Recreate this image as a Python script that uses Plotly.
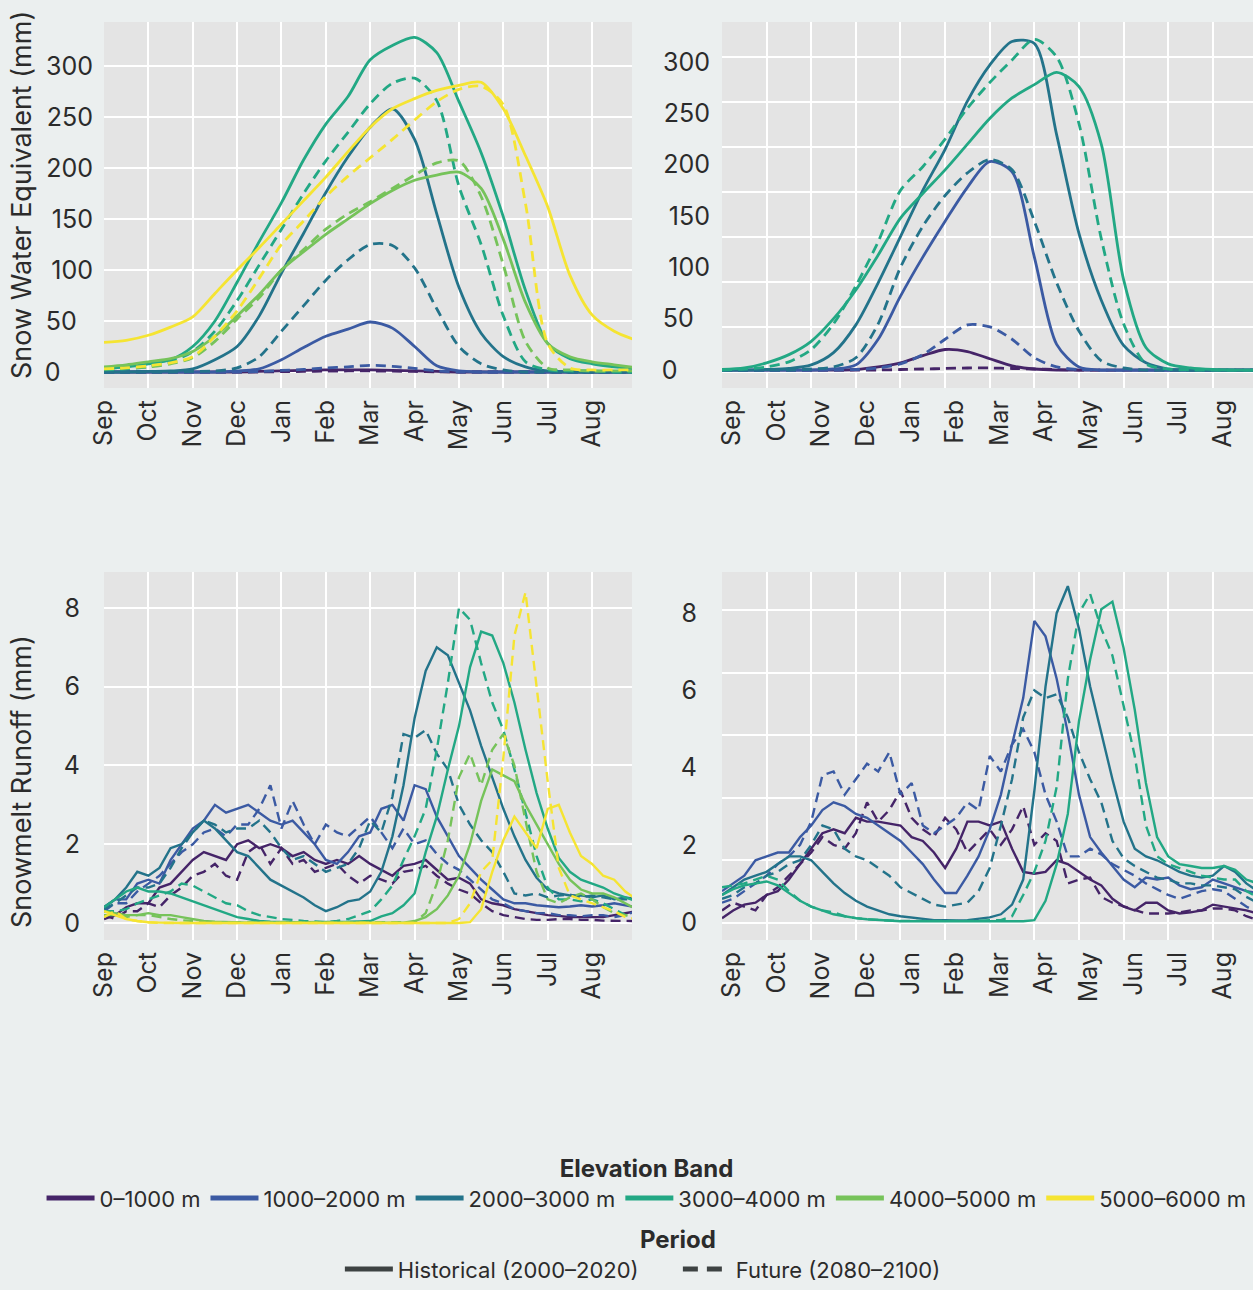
import plotly.graph_objects as go

# ---------------- labels / categories ----------------
MONTHS = ["Sep", "Oct", "Nov", "Dec", "Jan", "Feb", "Mar", "Apr", "May", "Jun", "Jul", "Aug"]
MONTH_POS = [0, 1, 2, 3, 4, 5, 6, 7, 8, 9, 10, 11]
BANDS = ["0–1000 m", "1000–2000 m", "2000–3000 m", "3000–4000 m", "4000–5000 m", "5000–6000 m"]
COLORS = ["#452468", "#3b5aa3", "#23738a", "#22a884", "#76c35a", "#f5e432"]
PERIODS = ["Historical (2000–2020)", "Future (2080–2100)"]
SWE_TICKS = [0, 50, 100, 150, 200, 250, 300]
SWE_TICK_LABELS = ["0", "50", "100", "150", "200", "250", "300"]
RUN_TICKS = [0, 2, 4, 6, 8]
RUN_TICK_LABELS = ["0", "2", "4", "6", "8"]
SWE_TITLE = "Snow Water Equivalent (mm)"
RUN_TITLE = "Snowmelt Runoff (mm)"

# sample times, in months since 1 September
SWE_T = [0, 0.5, 1, 1.5, 2, 2.5, 3, 3.5, 4, 4.5, 5, 5.5, 6, 6.5, 7, 7.5, 8, 8.5, 9, 9.5, 10, 10.5, 11, 11.5, 12]
RUN_T = [0, 0.25, 0.5, 0.75, 1, 1.25, 1.5, 1.75, 2, 2.25, 2.5, 2.75, 3, 3.25, 3.5, 3.75,
         4, 4.25, 4.5, 4.75, 5, 5.25, 5.5, 5.75, 6, 6.25, 6.5, 6.75, 7, 7.25, 7.5, 7.75,
         8, 8.25, 8.5, 8.75, 9, 9.25, 9.5, 9.75, 10, 10.25, 10.5, 10.75, 11, 11.25, 11.5, 11.75, 12]

# ---------------- Snow water equivalent, left basin ----------------
SWE_L_HIST_0 = [0, 0, 0, 0, 0, 0, 0, 0.5, 1, 1.5, 2, 2, 2, 1.5, 1, 0.5, 0, 0, 0, 0, 0, 0, 0, 0, 0]
SWE_L_HIST_1 = [0, 0, 0, 0, 0, 0, 1, 3, 12, 24, 35, 42, 49, 43, 25, 6, 1, 0, 0, 0, 0, 0, 0, 0, 0]
SWE_L_HIST_2 = [0, 0, 0.5, 1, 3, 12, 25, 55, 97, 136, 176, 211, 240, 258, 228, 155, 83, 38, 15, 5, 1, 0, 0, 0, 0]
SWE_L_HIST_3 = [3, 5, 8, 12, 25, 50, 88, 128, 166, 208, 243, 270, 306, 320, 328, 313, 265, 215, 152, 80, 28, 13, 8, 5, 3]
SWE_L_HIST_4 = [5, 7, 10, 13, 20, 35, 55, 76, 100, 118, 135, 150, 165, 178, 188, 193, 196, 180, 130, 68, 28, 15, 10, 7, 4]
SWE_L_HIST_5 = [29, 31, 36, 44, 54, 77, 100, 122, 145, 168, 191, 216, 240, 258, 268, 276, 281, 284, 258, 212, 162, 95, 56, 40, 31]

SWE_L_FUT_0 = [0, 0, 0, 0, 0, 0, 0, 0, 0.3, 0.5, 0.8, 1, 1, 0.8, 0.5, 0.2, 0, 0, 0, 0, 0, 0, 0, 0, 0]
SWE_L_FUT_1 = [0, 0, 0, 0, 0, 0, 0, 0.5, 1.5, 2.5, 4, 5, 6.5, 5.5, 3.5, 1, 0, 0, 0, 0, 0, 0, 0, 0, 0]
SWE_L_FUT_2 = [0, 0, 0, 0, 0.5, 1, 4, 15, 40, 65, 90, 110, 125, 124, 102, 62, 25, 8, 2, 0, 0, 0, 0, 0, 0]
SWE_L_FUT_3 = [2, 3, 5, 10, 20, 40, 70, 105, 140, 175, 207, 235, 263, 283, 288, 266, 182, 125, 55, 10, 2, 1, 1, 0, 0]
SWE_L_FUT_4 = [3, 4, 5, 8, 14, 30, 52, 73, 100, 120, 140, 155, 167, 180, 193, 205, 207, 172, 105, 30, 4, 2, 1, 1, 1]
SWE_L_FUT_5 = [3, 4, 6, 9, 15, 35, 60, 92, 125, 148, 172, 192, 210, 228, 247, 265, 277, 280, 262, 165, 28, 4, 2, 2, 2]

# ---------------- Snow water equivalent, right basin ----------------
SWE_R_HIST_0 = [0, 0, 0, 0, 0, 0, 0.5, 3, 7, 14, 20, 18, 11, 4, 1, 0, 0, 0, 0, 0, 0, 0, 0, 0, 0]
SWE_R_HIST_1 = [0, 0, 0, 0, 0, 1, 5, 30, 72, 110, 145, 178, 203, 193, 110, 25, 3, 0, 0, 0, 0, 0, 0, 0, 0]
SWE_R_HIST_2 = [0, 0, 0.5, 1.5, 5, 17, 44, 85, 130, 175, 215, 262, 297, 320, 318, 229, 133, 68, 24, 7, 1, 0, 0, 0, 0]
SWE_R_HIST_3 = [0.5, 2, 7, 15, 28, 50, 78, 112, 148, 172, 195, 220, 245, 265, 278, 290, 276, 220, 88, 22, 6, 2, 0.5, 0, 0]

SWE_R_FUT_0 = [0, 0, 0, 0, 0, 0, 0, 0, 0.5, 1, 1.5, 2, 2, 1.5, 1, 0.5, 0, 0, 0, 0, 0, 0, 0, 0, 0]
SWE_R_FUT_1 = [0, 0, 0, 0, 0, 0, 0.5, 2, 6, 15, 30, 44, 42, 30, 12, 3, 0.5, 0, 0, 0, 0, 0, 0, 0, 0]
SWE_R_FUT_2 = [0, 0, 0, 0, 1, 3, 12, 45, 100, 140, 170, 192, 205, 195, 145, 85, 38, 9, 2, 0, 0, 0, 0, 0, 0]
SWE_R_FUT_3 = [0, 1, 3, 8, 20, 45, 82, 125, 175, 198, 225, 255, 280, 302, 322, 305, 240, 128, 45, 6, 1, 0, 0, 0, 0]

# ---------------- Snowmelt runoff, left basin ----------------
RUN_L_HIST_0 = [0.1, 0.2, 0.4, 0.5, 0.5, 0.9, 1.0, 1.3, 1.6, 1.8, 1.7, 1.6, 2.0, 2.1, 1.9, 2.0,
                1.9, 1.7, 1.8, 1.6, 1.5, 1.6, 1.5, 1.7, 1.5, 1.35, 1.2, 1.45, 1.5, 1.6, 1.35, 1.1,
                1.15, 1.0, 0.6, 0.5, 0.45, 0.35, 0.3, 0.25, 0.2, 0.18, 0.15, 0.15, 0.15, 0.15, 0.2, 0.25, 0.3]
RUN_L_HIST_1 = [0.4, 0.6, 0.6, 1.0, 1.1, 1.0, 1.6, 2.0, 2.4, 2.6, 3.0, 2.8, 2.9, 3.0, 2.8, 2.6,
                2.5, 2.6, 2.3, 2.0, 1.6, 1.5, 1.8, 2.2, 2.3, 2.9, 3.0, 2.6, 3.5, 3.4, 2.7, 2.2,
                1.7, 1.4, 1.1, 0.85, 0.6, 0.5, 0.5, 0.45, 0.42, 0.4, 0.42, 0.45, 0.42, 0.45, 0.5, 0.45, 0.4]
RUN_L_HIST_2 = [0.4, 0.6, 0.9, 1.3, 1.2, 1.4, 1.9, 2.0, 2.3, 2.6, 2.4, 2.1, 1.8, 1.7, 1.4, 1.1,
                0.95, 0.8, 0.65, 0.45, 0.3, 0.4, 0.55, 0.6, 0.8, 1.3, 2.2, 3.5, 5.2, 6.4, 7.0, 6.8,
                6.1, 5.4, 4.5, 3.7, 2.9, 2.2, 1.6, 1.15, 0.85, 0.75, 0.7, 0.7, 0.65, 0.7, 0.6, 0.65, 0.6]
RUN_L_HIST_3 = [0.4, 0.6, 0.8, 0.9, 0.8, 0.8, 0.75, 0.65, 0.55, 0.45, 0.35, 0.25, 0.15, 0.1, 0.05, 0.03,
                0.02, 0.02, 0.02, 0.02, 0.02, 0.02, 0.03, 0.04, 0.05, 0.17, 0.25, 0.45, 0.75, 1.8, 2.7, 3.9,
                5.0, 6.5, 7.4, 7.3, 6.6, 5.6, 4.4, 3.3, 2.4, 1.65, 1.3, 1.1, 1.0, 0.9, 0.75, 0.65, 0.55]
RUN_L_HIST_4 = [0.3, 0.25, 0.2, 0.2, 0.25, 0.2, 0.2, 0.15, 0.1, 0.05, 0.03, 0.02, 0.01, 0.01, 0.01, 0.01,
                0.01, 0.01, 0.01, 0.01, 0.01, 0.01, 0.01, 0.01, 0.01, 0.01, 0.01, 0.01, 0.05, 0.15, 0.35, 0.7,
                1.2, 2.0, 3.1, 3.9, 3.75, 3.6, 3.0, 2.5, 2.0, 1.5, 1.1, 0.85, 0.75, 0.75, 0.65, 0.5, 0.35]
RUN_L_HIST_5 = [0.3, 0.2, 0.1, 0.05, 0.02, 0.01, 0, 0, 0, 0, 0, 0, 0, 0, 0, 0,
                0, 0, 0, 0, 0, 0, 0, 0, 0, 0, 0, 0, 0, 0, 0, 0,
                0, 0.02, 0.35, 1.3, 2.1, 2.7, 2.3, 1.9, 2.9, 3.0, 2.3, 1.7, 1.5, 1.2, 1.1, 0.8, 0.6]

RUN_L_FUT_0 = [0.2, 0.1, 0.3, 0.3, 0.5, 0.4, 0.7, 0.9, 1.2, 1.3, 1.5, 1.2, 1.1, 1.8, 2.0, 1.5,
               1.9, 1.5, 1.6, 1.3, 1.4, 1.5, 1.2, 1.0, 1.2, 1.1, 1.0, 1.3, 1.35, 1.45, 1.2, 1.0,
               0.85, 0.75, 0.5, 0.3, 0.2, 0.15, 0.1, 0.08, 0.08, 0.1, 0.1, 0.08, 0.08, 0.06, 0.05, 0.05, 0.05]
RUN_L_FUT_1 = [0.3, 0.5, 0.5, 0.8, 1.0, 1.2, 1.5, 1.8, 2.0, 2.3, 2.4, 2.2, 2.5, 2.5, 2.9, 3.5,
               2.4, 3.1, 2.5, 2.0, 2.5, 2.3, 2.2, 2.45, 2.7, 2.3, 1.9, 2.4, 2.0, 2.1, 1.75, 1.5,
               1.35, 1.1, 0.85, 0.6, 0.5, 0.35, 0.3, 0.25, 0.25, 0.2, 0.2, 0.17, 0.2, 0.2, 0.15, 0.2, 0.3]
RUN_L_FUT_2 = [0.35, 0.5, 0.7, 0.9, 0.9, 1.0, 1.4, 1.9, 2.3, 2.6, 2.5, 2.3, 2.4, 2.4, 2.6, 2.3,
               1.9, 1.6, 1.7, 1.5, 1.3, 1.4, 1.5, 1.9, 2.6, 2.3, 3.2, 4.8, 4.7, 4.9, 4.3, 3.9,
               3.0, 2.5, 2.1, 1.8, 1.3, 0.75, 0.7, 0.75, 0.65, 0.7, 0.72, 0.65, 0.7, 0.65, 0.6, 0.6, 0.6]
RUN_L_FUT_3 = [0.3, 0.3, 0.35, 0.5, 0.6, 0.7, 0.8, 1.0, 0.95, 0.8, 0.65, 0.5, 0.45, 0.3, 0.2, 0.15,
               0.1, 0.08, 0.05, 0.04, 0.02, 0.05, 0.1, 0.2, 0.3, 0.6, 0.95, 1.6, 2.2, 2.9, 4.4, 6.1,
               8.0, 7.7, 6.6, 5.6, 4.9, 3.9, 2.8, 1.7, 0.9, 0.6, 0.6, 0.55, 0.6, 0.5, 0.35, 0.2, 0.15]
RUN_L_FUT_4 = [0.2, 0.2, 0.15, 0.2, 0.2, 0.15, 0.1, 0.07, 0.05, 0.02, 0.01, 0.01, 0.01, 0.01, 0.01, 0.01,
               0.01, 0.01, 0.01, 0.01, 0.01, 0.01, 0.01, 0.01, 0.01, 0.01, 0.01, 0.01, 0.02, 0.25, 1.0, 2.1,
               3.7, 4.3, 3.5, 4.4, 4.8, 4.0, 2.6, 1.3, 0.6, 0.5, 0.65, 0.75, 0.6, 0.4, 0.25, 0.2, 0.15]
RUN_L_FUT_5 = [0.15, 0.3, 0.1, 0.05, 0.02, 0, 0, 0, 0, 0, 0, 0, 0, 0, 0, 0,
               0, 0, 0, 0, 0, 0, 0, 0, 0, 0, 0, 0, 0, 0, 0, 0,
               0.1, 0.5, 1.3, 1.6, 4.2, 7.3, 8.4, 6.0, 3.6, 1.4, 0.7, 0.6, 0.5, 0.4, 0.3, 0.15, 0.1]

# ---------------- Snowmelt runoff, right basin ----------------
RUN_R_HIST_0 = [0.1, 0.3, 0.45, 0.5, 0.7, 0.8, 1.1, 1.5, 1.9, 2.3, 2.4, 2.3, 2.7, 2.6, 2.6, 2.55,
                2.5, 2.2, 2.1, 1.8, 1.4, 1.9, 2.6, 2.6, 2.5, 2.6, 1.9, 1.3, 1.25, 1.3, 1.6, 1.5,
                1.3, 1.1, 0.95, 0.6, 0.4, 0.3, 0.5, 0.5, 0.3, 0.22, 0.25, 0.3, 0.45, 0.4, 0.35, 0.3, 0.22]
RUN_R_HIST_1 = [0.8, 1.0, 1.2, 1.6, 1.7, 1.8, 1.8, 2.2, 2.5, 2.9, 3.1, 3.0, 2.8, 2.7, 2.5, 2.3,
                2.1, 1.8, 1.5, 1.1, 0.75, 0.75, 1.2, 1.7, 2.4, 3.3, 4.6, 5.8, 7.8, 7.4, 6.3, 4.9,
                3.3, 2.2, 1.8, 1.45, 1.1, 0.9, 1.15, 1.1, 1.15, 0.95, 0.85, 0.9, 1.1, 1.0, 0.9, 0.8, 0.75]
RUN_R_HIST_2 = [0.7, 0.9, 1.1, 1.2, 1.3, 1.5, 1.7, 1.7, 1.6, 1.3, 1.0, 0.75, 0.55, 0.4, 0.3, 0.2,
                0.15, 0.12, 0.08, 0.05, 0.05, 0.04, 0.05, 0.08, 0.12, 0.2, 0.45, 1.1, 3.4, 6.1, 8.0, 8.7,
                7.6, 6.1, 4.9, 3.7, 2.6, 1.9, 1.7, 1.6, 1.45, 1.3, 1.2, 1.15, 1.2, 1.45, 1.3, 1.0, 0.8]
RUN_R_HIST_3 = [0.7, 0.85, 0.95, 1.0, 1.05, 0.95, 0.75, 0.55, 0.4, 0.3, 0.2, 0.15, 0.1, 0.07, 0.05, 0.03,
                0.02, 0.02, 0.02, 0.02, 0.02, 0.02, 0.02, 0.02, 0.02, 0.02, 0.02, 0.02, 0.05, 0.55, 1.5, 2.8,
                5.2, 6.8, 8.1, 8.3, 7.1, 5.5, 3.6, 2.2, 1.7, 1.5, 1.45, 1.4, 1.4, 1.45, 1.35, 1.1, 1.0]

RUN_R_FUT_0 = [0.3, 0.5, 0.4, 0.3, 0.7, 0.9, 1.2, 1.5, 1.8, 2.2, 2.0, 1.9, 2.3, 3.1, 2.6, 2.9,
               3.4, 2.7, 2.4, 2.2, 2.7, 2.4, 1.8, 2.1, 2.4, 2.0, 2.4, 3.0, 2.0, 2.3, 2.1, 1.0,
               1.1, 1.15, 0.65, 0.5, 0.4, 0.3, 0.22, 0.22, 0.22, 0.25, 0.3, 0.3, 0.35, 0.35, 0.3, 0.15, 0.05]
RUN_R_FUT_1 = [0.5, 0.6, 0.8, 1.0, 1.2, 1.5, 1.7, 2.0, 2.6, 3.8, 3.9, 3.3, 3.7, 4.1, 3.9, 4.4,
               3.3, 3.6, 2.5, 2.3, 2.5, 2.7, 3.1, 2.9, 4.3, 3.9, 4.6, 5.0, 4.4, 3.3, 2.6, 1.7,
               1.7, 1.9, 1.75, 1.5, 1.35, 1.2, 1.0, 0.85, 0.7, 0.6, 0.7, 0.8, 0.85, 0.8, 0.6, 0.4, 0.25]
RUN_R_FUT_2 = [0.6, 0.7, 0.9, 1.0, 1.2, 1.3, 1.5, 1.6, 2.0, 2.5, 2.4, 1.9, 1.7, 1.6, 1.4, 1.2,
               0.9, 0.75, 0.6, 0.45, 0.4, 0.45, 0.5, 0.8, 1.4, 2.5, 3.7, 5.3, 6.0, 5.8, 5.9, 5.3,
               4.4, 3.7, 3.1, 2.1, 1.65, 1.45, 1.3, 1.15, 1.1, 1.0, 1.0, 0.95, 0.95, 0.9, 0.85, 0.65, 0.5]
RUN_R_FUT_3 = [0.9, 0.95, 1.0, 1.1, 1.2, 1.1, 0.8, 0.55, 0.4, 0.3, 0.25, 0.15, 0.1, 0.07, 0.05, 0.04,
               0.03, 0.03, 0.03, 0.03, 0.03, 0.03, 0.03, 0.03, 0.05, 0.05, 0.15, 0.7, 1.3, 2.1, 3.5, 6.3,
               8.0, 8.5, 7.6, 6.9, 5.6, 4.3, 2.5, 1.7, 1.5, 1.4, 1.3, 1.2, 1.15, 1.1, 1.1, 0.8, 0.65]

# ---------------- styling ----------------
FONT = "Inter"
TEXT = "#2b2b2b"
PAPER = "#ebefef"
PANEL = "#e4e4e4"
GRID = "#ffffff"
DASH = "10px,6px"
FS = "\u2007"   # figure space, used to left-align the y tick labels

W, H = 1253, 1290
LEFT_DOM = [104 / W, 632 / W]
RIGHT_DOM = [722 / W, 1.0]
TOP_DOM = [1 - 388 / H, 1 - 22 / H]
BOT_DOM = [1 - 940 / H, 1 - 572 / H]

fig = go.Figure()

panels = [
    ("x", "y", SWE_T, [SWE_L_HIST_0, SWE_L_HIST_1, SWE_L_HIST_2, SWE_L_HIST_3, SWE_L_HIST_4, SWE_L_HIST_5],
     [SWE_L_FUT_0, SWE_L_FUT_1, SWE_L_FUT_2, SWE_L_FUT_3, SWE_L_FUT_4, SWE_L_FUT_5], "spline", 2.8),
    ("x2", "y2", SWE_T, [SWE_R_HIST_0, SWE_R_HIST_1, SWE_R_HIST_2, SWE_R_HIST_3],
     [SWE_R_FUT_0, SWE_R_FUT_1, SWE_R_FUT_2, SWE_R_FUT_3], "spline", 2.8),
    ("x3", "y3", RUN_T, [RUN_L_HIST_0, RUN_L_HIST_1, RUN_L_HIST_2, RUN_L_HIST_3, RUN_L_HIST_4, RUN_L_HIST_5],
     [RUN_L_FUT_0, RUN_L_FUT_1, RUN_L_FUT_2, RUN_L_FUT_3, RUN_L_FUT_4, RUN_L_FUT_5], "linear", 2.4),
    ("x4", "y4", RUN_T, [RUN_R_HIST_0, RUN_R_HIST_1, RUN_R_HIST_2, RUN_R_HIST_3],
     [RUN_R_FUT_0, RUN_R_FUT_1, RUN_R_FUT_2, RUN_R_FUT_3], "linear", 2.4),
]

for xa, ya, t, hist, fut, shape, lw in panels:
    for i in range(len(hist)):
        for ys, dash in ((hist[i], "solid"), (fut[i], DASH)):
            line = dict(color=COLORS[i], width=lw, shape=shape, dash=dash)
            if shape == "spline":
                line["smoothing"] = 0.8
            fig.add_trace(go.Scatter(x=t, y=ys, mode="lines", line=line, xaxis=xa, yaxis=ya,
                                     showlegend=False, hoverinfo="skip"))

# empty traces that only carry the grids of the right-hand panels
fig.add_trace(go.Scatter(x=[None], y=[None], xaxis="x2", yaxis="y5", showlegend=False, hoverinfo="skip"))
fig.add_trace(go.Scatter(x=[None], y=[None], xaxis="x4", yaxis="y6", showlegend=False, hoverinfo="skip"))

# legend entries
for band, col in zip(BANDS, COLORS):
    fig.add_trace(go.Scatter(x=[None], y=[None], mode="lines", name=band,
                             line=dict(color=col, width=5), legend="legend"))
fig.add_trace(go.Scatter(x=[None], y=[None], mode="lines", name=PERIODS[0],
                         line=dict(color="#3d4242", width=5), legend="legend2"))
fig.add_trace(go.Scatter(x=[None], y=[None], mode="lines", name=PERIODS[1],
                         line=dict(color="#3d4242", width=5, dash="15px,9px"), legend="legend2"))


def pad(labels):
    return [s + FS * (3 - len(s)) for s in labels]


xbase = dict(range=[0, 11.9], tickmode="array", tickvals=MONTH_POS, ticktext=MONTHS, tickangle=-90,
             showgrid=True, gridcolor=GRID, gridwidth=1.6, zeroline=False, showline=False, ticks="",
             tickfont=dict(size=25, color=TEXT), ticklabelstandoff=6, fixedrange=True, automargin=False)
ybase = dict(showgrid=True, gridcolor=GRID, gridwidth=1.6, zeroline=False, showline=False, ticks="",
             tickfont=dict(size=25, color=TEXT), fixedrange=True, tickmode="array", automargin=False)

fig.update_layout(
    width=W, height=H, margin=dict(l=0, r=0, t=0, b=0),
    paper_bgcolor=PAPER, plot_bgcolor=PANEL,
    font=dict(family=FONT, size=22, color=TEXT),
    xaxis=dict(xbase, domain=LEFT_DOM, anchor="y"),
    xaxis2=dict(xbase, domain=RIGHT_DOM, anchor="y2", ticklabelshift=10),
    xaxis3=dict(xbase, domain=LEFT_DOM, anchor="y3"),
    xaxis4=dict(xbase, domain=RIGHT_DOM, anchor="y4", ticklabelshift=10),
    yaxis=dict(ybase, domain=TOP_DOM, anchor="x", range=[-15.7, 343.1], tickvals=SWE_TICKS,
               ticktext=pad(SWE_TICK_LABELS), ticklabelstandoff=10),
    yaxis2=dict(ybase, domain=TOP_DOM, anchor="x2", range=[-17.5, 339], tickvals=SWE_TICKS,
                ticktext=pad(SWE_TICK_LABELS), showgrid=False, ticklabelstandoff=11),
    yaxis3=dict(ybase, domain=BOT_DOM, anchor="x3", range=[-0.432, 8.914], tickvals=RUN_TICKS,
                ticktext=RUN_TICK_LABELS, ticklabelstandoff=23),
    yaxis4=dict(ybase, domain=BOT_DOM, anchor="x4", range=[-0.466, 9.067], tickvals=RUN_TICKS,
                ticktext=RUN_TICK_LABELS, showgrid=False, ticklabelstandoff=24),
    yaxis5=dict(ybase, domain=TOP_DOM, anchor="x2", overlaying="y2", range=[-17.8, 388.9],
                tickmode="linear", tick0=0, dtick=50, showticklabels=False),
    yaxis6=dict(ybase, domain=BOT_DOM, anchor="x4", overlaying="y4", range=[-0.543, 11.21],
                tickmode="linear", tick0=0, dtick=2, showticklabels=False),
    legend=dict(orientation="h", x=0.516, xanchor="center", y=1 - 1146 / H, yanchor="top",
                bgcolor="rgba(0,0,0,0)", itemwidth=48, font=dict(size=22, color=TEXT),
                title=dict(text="<b>Elevation Band</b>", side="top center", font=dict(size=24, color=TEXT))),
    legend2=dict(orientation="h", x=0.541, xanchor="center", y=0, yanchor="bottom",
                 bgcolor="rgba(0,0,0,0)", itemwidth=48, font=dict(size=22, color=TEXT),
                 entrywidth=275, entrywidthmode="pixels",
                 title=dict(text="<b>Period</b>", side="top center", font=dict(size=24, color=TEXT))),
    annotations=[
        dict(text=SWE_TITLE, textangle=-90, x=21 / W, y=1 - 195 / H, xref="paper", yref="paper",
             xanchor="center", yanchor="middle", showarrow=False, font=dict(size=27, color=TEXT)),
        dict(text=RUN_TITLE, textangle=-90, x=21 / W, y=1 - 782 / H, xref="paper", yref="paper",
             xanchor="center", yanchor="middle", showarrow=False, font=dict(size=27, color=TEXT)),
    ],
)

fig.write_html(
    "out.html",
    config={"displayModeBar": False},
    post_script="document.body.style.margin='0';document.body.style.overflow='hidden';"
                "document.body.style.background='" + PAPER + "';",
)
